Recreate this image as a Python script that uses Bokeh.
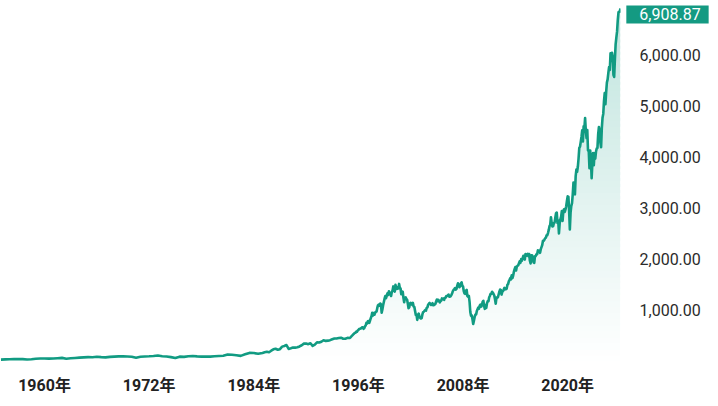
import numpy as np
from bokeh.plotting import figure
from bokeh.models import Range1d, FixedTicker, NumeralTickFormatter, PrintfTickFormatter, Label
from bokeh.embed import file_html
from bokeh.resources import INLINE

# S&P 500 style index level
halfyear_1955_1984 = [
    36, 41, 45, 47, 46, 47, 40, 45, 55, 58,
    59, 56, 58, 65, 71, 55, 63, 69, 75, 81,
    85, 84, 92, 85, 80, 91, 96, 100, 103, 97,
    92, 73, 92, 99, 102, 107, 118, 104, 97, 86,
    68, 95, 90, 104, 107, 100, 95, 95, 96, 102,
    108, 114, 136, 131, 122, 110, 140, 168, 165, 151,
]
quarterly_1985_1994 = [
    167, 181, 191, 182, 211, 238, 250, 231, 242, 291,
    304, 322, 247, 259, 273, 272, 278, 294, 318, 349,
    353, 339, 358, 306, 330, 375, 371, 387, 417, 403,
    408, 418, 436, 451, 450, 459, 466, 446, 444, 462,
]
monthly_1995_2025 = [
    459, 470, 487, 501, 515, 533, 545, 562, 562, 584, 582, 605,
    616, 636, 640, 645, 654, 669, 671, 640, 651, 687, 705, 757,
    741, 786, 791, 757, 801, 848, 885, 954, 899, 947, 915, 955,
    970, 980, 1049, 1102, 1112, 1091, 1134, 1121, 957, 1017, 1099, 1164,
    1229, 1280, 1238, 1286, 1335, 1302, 1373, 1329, 1320, 1283, 1363, 1389,
    1469, 1394, 1366, 1499, 1452, 1421, 1455, 1431, 1518, 1437, 1429, 1315,
    1320, 1366, 1240, 1160, 1249, 1256, 1224, 1211, 1134, 1041, 1060, 1139,
    1148, 1130, 1107, 1147, 1077, 1067, 990, 912, 916, 815, 886, 936,
    880, 856, 841, 848, 917, 964, 975, 990, 1008, 996, 1051, 1058,
    1112, 1131, 1145, 1126, 1107, 1121, 1141, 1102, 1104, 1115, 1130, 1174,
    1212, 1181, 1204, 1181, 1157, 1191, 1191, 1234, 1220, 1229, 1207, 1249,
    1248, 1280, 1281, 1295, 1311, 1270, 1270, 1277, 1304, 1336, 1378, 1401,
    1418, 1438, 1407, 1421, 1482, 1531, 1503, 1455, 1474, 1527, 1549, 1481,
    1468, 1379, 1331, 1323, 1386, 1400, 1280, 1267, 1283, 1166, 969, 896,
    903, 826, 735, 798, 873, 919, 919, 987, 1021, 1057, 1036, 1096,
    1115, 1074, 1104, 1169, 1187, 1089, 1031, 1102, 1049, 1141, 1183, 1181,
    1258, 1286, 1327, 1326, 1364, 1345, 1321, 1292, 1219, 1131, 1253, 1247,
    1258, 1312, 1366, 1408, 1398, 1310, 1362, 1379, 1407, 1441, 1412, 1416,
    1426, 1498, 1515, 1569, 1598, 1631, 1606, 1686, 1633, 1682, 1757, 1806,
    1848, 1783, 1859, 1872, 1884, 1924, 1960, 1931, 2003, 1972, 2018, 2068,
    2059, 1995, 2105, 2068, 2086, 2107, 2063, 2104, 1972, 1920, 2079, 2080,
    2044, 1940, 1932, 2060, 2065, 2097, 2099, 2174, 2171, 2168, 2126, 2199,
    2239, 2279, 2364, 2363, 2384, 2412, 2423, 2470, 2472, 2519, 2575, 2648,
    2674, 2824, 2714, 2641, 2648, 2705, 2718, 2816, 2902, 2914, 2712, 2760,
    2507, 2704, 2784, 2834, 2946, 2752, 2942, 2980, 2926, 2977, 3038, 3141,
    3231, 3226, 2954, 2585, 2912, 3044, 3100, 3271, 3500, 3363, 3270, 3622,
    3756, 3714, 3811, 3973, 4181, 4204, 4298, 4395, 4523, 4308, 4605, 4567,
    4766, 4516, 4374, 4530, 4132, 4132, 3785, 4130, 3955, 3586, 3872, 4080,
    3840, 4077, 3970, 4109, 4169, 4180, 4450, 4589, 4508, 4288, 4194, 4568,
    4770, 4846, 5096, 5254, 5036, 5278, 5460, 5522, 5648, 5762, 5705, 6032,
    5882, 6041, 5955, 5612, 5569, 5912, 6205, 6339, 6460, 6688, 6840, 6849,
]
jan_2026_dates = [2026.0, 2026.04]
jan_2026_values = [6845, 6908.87]

x_tick_years = [1960, 1972, 1984, 1996, 2008, 2020]
y_tick_values = [1000, 2000, 3000, 4000, 5000, 6000]
last_label = "6,908.87"

TEAL = (17, 155, 130)
TEAL_HEX = "#119b82"

t = np.concatenate([
    1955 + 0.5 * np.arange(len(halfyear_1955_1984)),
    1985 + 0.25 * np.arange(len(quarterly_1985_1994)),
    1995 + np.arange(len(monthly_1995_2025)) / 12.0,
    np.array(jan_2026_dates),
])
v = np.array(halfyear_1955_1984 + quarterly_1985_1994 + monthly_1995_2025 + jan_2026_values, dtype=float)

Y_TOP = 7065
p = figure(
    frame_width=620, frame_height=361,
    x_range=Range1d(1954.95, 2026.06), y_range=Range1d(0, Y_TOP),
    y_axis_location="right",
    output_backend="svg", toolbar_location=None,
    min_border_left=0, min_border_top=0, min_border_right=90, min_border_bottom=37,
    background_fill_color="white", border_fill_color="white",
)
p.outline_line_color = None
p.xgrid.visible = False
p.ygrid.visible = False

# vertical gradient fill under the line, built from horizontal bands
N = 60
h = Y_TOP / N
for k in range(N):
    lo = k * h
    hi = lo + 1.5 * h
    a = 0.27 * (k + 0.5) / N
    r, g, b = (int(round(255 * (1 - a) + c * a)) for c in TEAL)
    col = "#%02x%02x%02x" % (r, g, b)
    p.varea(x=t, y1=np.minimum(v, lo), y2=np.minimum(v, hi), fill_color=col, fill_alpha=1.0)

p.line(t, v, line_color=TEAL_HEX, line_width=2.6, line_join="round")

xa = p.xaxis[0]
xa.ticker = FixedTicker(ticks=x_tick_years)
xa.formatter = PrintfTickFormatter(format="%d年")
xa.axis_line_color = None
xa.major_tick_line_color = None
xa.minor_tick_line_color = None
xa.major_tick_out = 0
xa.major_tick_in = 0
xa.major_label_standoff = 14
xa.major_label_text_font = "Roboto, 'Noto Sans CJK JP'"
xa.major_label_text_font_style = "bold"
xa.major_label_text_font_size = "16px"
xa.major_label_text_color = "#222222"

ya = p.yaxis[0]
ya.ticker = FixedTicker(ticks=y_tick_values)
ya.formatter = NumeralTickFormatter(format="0,0.00")
ya.axis_line_color = None
ya.major_tick_line_color = None
ya.minor_tick_line_color = None
ya.major_tick_out = 0
ya.major_tick_in = 0
ya.major_label_standoff = 19
ya.major_label_text_font = "Roboto"
ya.major_label_text_font_size = "16px"
ya.major_label_text_color = "#2b2b2b"

# last-value tag, placed in the right side panel so it is not clipped to the frame
lbl = Label(
    x=t[-1], y=v[-1], text=last_label,
    x_offset=6, y_offset=-6,
    text_align="left", text_baseline="middle",
    text_color="white", text_font="Roboto", text_font_size="16px",
    background_fill_color="#149a82", background_fill_alpha=1.0,
    padding=dict(left=13, right=8, top=3, bottom=3),
)
p.add_layout(lbl, "right")

open("out.html", "w").write(file_html(p, INLINE))
